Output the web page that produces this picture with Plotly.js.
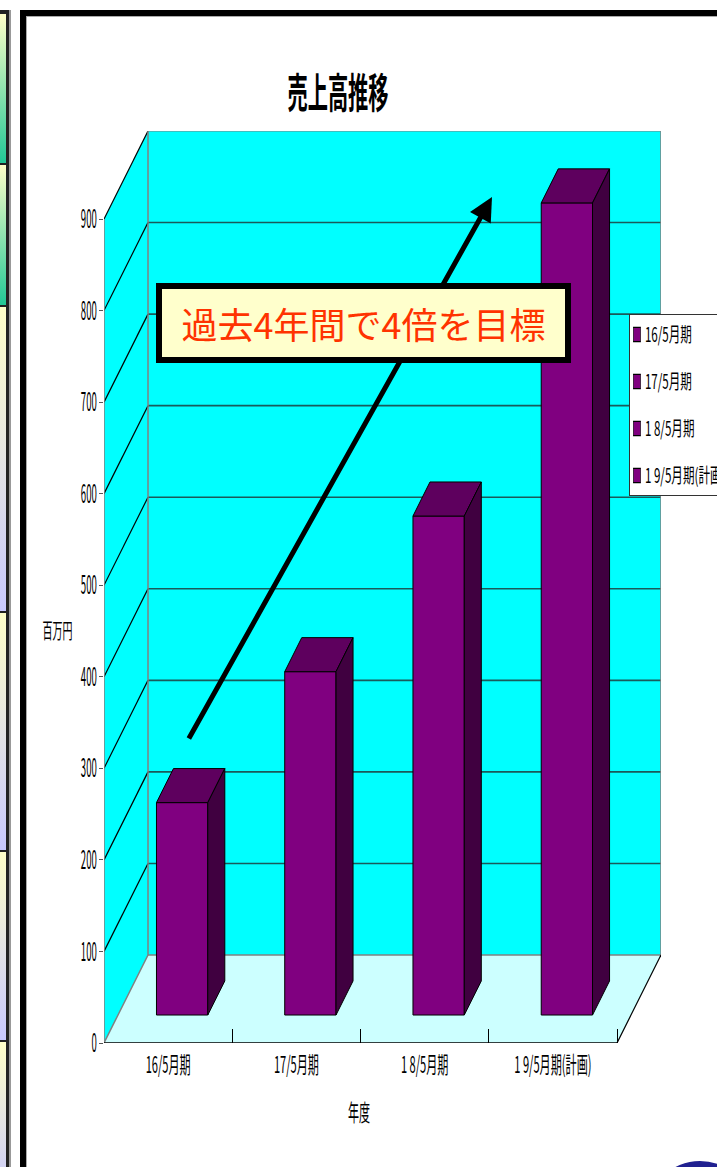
<!DOCTYPE html>
<html>
<head>
<meta charset="utf-8">
<script src="https://cdn.plot.ly/plotly-3.0.1.min.js"></script>
<style>
  html, body { margin:0; padding:0; background:#ffffff; }
  #wrap { position:relative; width:717px; height:1167px; overflow:hidden; }
  .deco { position:absolute; }
  #chart { position:absolute; left:0; top:0; width:717px; height:1167px; }
</style>
</head>
<body>
<div id="wrap">
  <div id="deco"></div>
  <div id="chart"></div>
</div>
<script>
// ---------------- data ----------------
const CATEGORIES = ['16/5月期', '17/5月期', '1 8/5月期', '1 9/5月期(計画)'];
const LEGEND_LABELS = ['16/5月期', '17/5月期', '1 8/5月期', '1 9/5月期(計画)'];
const SALES = [232, 375, 545, 887];          // 百万円
const Y_TICKS = [0, 100, 200, 300, 400, 500, 600, 700, 800, 900];
const TITLE = '売上高推移';
const Y_TITLE = '百万円';
const X_TITLE = '年度';
const NOTE = '過去4年間で4倍を目標';

// ---------------- page decoration (left strip / frame) ----------------
(function () {
  const d = document.getElementById('deco');
  const add = (css) => { const e = document.createElement('div'); e.className = 'deco'; e.style.cssText = css; d.appendChild(e); };
  const panels = [
    [12, 163, '#22c896'], [163, 305, '#22c896'], [305, 611, '#c8c8ff'],
    [611, 850, '#c8c8ff'], [850, 1040, '#c8c8ff'], [1040, 1200, '#c8c8ff']
  ];
  panels.forEach(p => add(`left:0;top:${p[0]}px;width:6px;height:${p[1]-p[0]}px;background:linear-gradient(#ffffc8,${p[2]});border-top:2px solid #222;box-sizing:border-box;`));
  add('left:0;top:10px;width:11px;height:3px;background:#222;');
  add('left:6px;top:10px;width:3px;height:1157px;background:#222;');
  add('left:9px;top:10px;width:2px;height:1157px;background:#999;');
  add('left:20px;top:10px;width:697px;height:6px;background:#000;');
  add('left:20px;top:10px;width:6px;height:1157px;background:#000;');
  add('left:26px;top:16px;width:691px;height:1px;background:#aaa;');
  add('left:26px;top:16px;width:1px;height:1151px;background:#aaa;');
  add('left:647px;top:1161px;width:106px;height:106px;border-radius:50%;background:#202090;');
})();

// ---------------- geometry / style ----------------
const FONT = '"Noto Sans CJK JP", "Noto Sans", sans-serif';
const PX_PER_X = 128.25, PX_PER_Y = 0.9156;
const DX = 44 / PX_PER_X;      // depth shift (x units)
const DY = 88 / PX_PER_Y;      // depth shift (value units)
const F0 = 0.318, F1 = 0.705;  // bar front/back depth fraction
const BAR_W = 0.4;
const N = CATEGORIES.length;
const XMAX = N + DX;
const YTOP = Y_TICKS[Y_TICKS.length - 1];
const YMAX = YTOP + DY;
const C_FRONT = '#800080', C_TOP = '#5e005e', C_SIDE = '#400040';
const WALL = '#00ffff', FLOOR = '#ccffff', GRID = '#1a5a5a', EDGE = '#808080';

// ---------------- traces ----------------
const traces = [];
const base = F0 * DY, ddx = (F1 - F0) * DX, ddy = (F1 - F0) * DY;
CATEGORIES.forEach((c, i) => {
  traces.push({
    type: 'bar', x: [i + 0.5 + F0 * DX], y: [SALES[i]], base: [base], width: [BAR_W],
    name: LEGEND_LABELS[i], legendgroup: 'g' + i,
    marker: { color: C_FRONT, line: { color: '#000', width: 1 } }, hoverinfo: 'skip'
  });
});
CATEGORIES.forEach((c, i) => {
  const cx = i + 0.5 + F0 * DX, xl = cx - BAR_W / 2, xr = cx + BAR_W / 2, t = base + SALES[i];
  traces.push({
    type: 'scatter', mode: 'lines', fill: 'toself', fillcolor: C_TOP, showlegend: false, hoverinfo: 'skip',
    line: { color: '#000', width: 1 },
    x: [xl, xr, xr + ddx, xl + ddx, xl], y: [t, t, t + ddy, t + ddy, t]
  });
  traces.push({
    type: 'scatter', mode: 'lines', fill: 'toself', fillcolor: C_SIDE, showlegend: false, hoverinfo: 'skip',
    line: { color: '#000', width: 1 },
    x: [xr, xr + ddx, xr + ddx, xr, xr], y: [base, base + ddy, t + ddy, t, base]
  });
});

// ---------------- walls (shapes) ----------------
const shapes = [];
const L = (x0, y0, x1, y1, color, width) => shapes.push({ type: 'line', xref: 'x', yref: 'y', x0, y0, x1, y1, layer: 'below', line: { color, width } });
shapes.push({ type: 'path', xref: 'x', yref: 'y', layer: 'below', path: `M0,0 L${DX},${DY} L${DX},${YMAX} L0,${YTOP} Z`, fillcolor: WALL, line: { width: 0 } });
shapes.push({ type: 'rect', xref: 'x', yref: 'y', layer: 'below', x0: DX, x1: XMAX, y0: DY, y1: YMAX, fillcolor: WALL, line: { width: 0 } });
shapes.push({ type: 'path', xref: 'x', yref: 'y', layer: 'below', path: `M0,0 L${N},0 L${XMAX},${DY} L${DX},${DY} Z`, fillcolor: FLOOR, line: { width: 0 } });
Y_TICKS.slice(1, -1).forEach(v => L(DX, v + DY, XMAX, v + DY, GRID, 1.6));
Y_TICKS.slice(1).forEach(v => L(0, v, DX, v + DY, '#000', 1.2));
L(DX, YMAX, XMAX, YMAX, EDGE, 1);
L(XMAX, DY, XMAX, YMAX, EDGE, 1.5);
L(DX, DY, DX, YMAX, EDGE, 1.5);
L(DX, DY, XMAX, DY, EDGE, 1.5);
L(0, 0, DX, DY, EDGE, 1.5);
L(0, 0, 0, YTOP, EDGE, 1.5);
L(0, 0, N, 0, '#000', 1.5);
L(N, 0, XMAX, DY, '#000', 1.2);

// ---------------- layout ----------------
const layout = {
  width: 717, height: 1167,
  margin: { l: 104, r: 56, t: 131, b: 124, autoexpand: false },
  paper_bgcolor: 'rgba(0,0,0,0)', plot_bgcolor: 'rgba(0,0,0,0)',
  font: { family: FONT, color: '#000' },
  barmode: 'overlay', showlegend: true,
  title: { text: TITLE, font: { size: 41, weight: 'bold', family: FONT, color: '#000' },
           x: 338 / 717, xanchor: 'center', y: 1 - 94 / 1167, yanchor: 'middle', xref: 'container', yref: 'container' },
  xaxis: {
    range: [0, XMAX], tickmode: 'array', tickvals: CATEGORIES.map((c, i) => i + 0.5), ticktext: CATEGORIES,
    ticks: '', showgrid: false, zeroline: false, showline: false, tickfont: { size: 23 }, ticklabelstandoff: 6,
    tickangle: 0,
    minor: { tickmode: 'array', tickvals: CATEGORIES.map((c, i) => i + 1), ticks: 'inside', ticklen: 14, tickcolor: '#000', tickwidth: 1, showgrid: false }
  },
  yaxis: {
    range: [0, YMAX], tickmode: 'array', tickvals: Y_TICKS, ticktext: Y_TICKS.map(String),
    ticks: 'outside', ticklen: 4, tickcolor: '#555', showgrid: false, zeroline: false, showline: false,
    tickfont: { size: 26 }, ticklabelstandoff: -3
  },
  legend: { x: (628 - 104) / 556, y: (1043 - 314) / 912, xanchor: 'left', yanchor: 'top', bgcolor: '#ffffff',
            bordercolor: '#333', borderwidth: 1, font: { size: 20, family: FONT }, tracegroupgap: 18 },
  annotations: [
    { xref: 'x', yref: 'y', axref: 'x', ayref: 'y', x: 388 / PX_PER_X, y: 846 / PX_PER_Y, ax: 84 / PX_PER_X, ay: 303 / PX_PER_Y,
      text: '', showarrow: true, arrowhead: 2, arrowsize: 0.95, arrowwidth: 5, arrowcolor: '#000', standoff: 0, startstandoff: 0 },
    { xref: 'paper', yref: 'paper', x: (363.5 - 104) / 556, y: (1043 - 323) / 912, xanchor: 'center', yanchor: 'middle',
      text: NOTE, showarrow: false, font: { size: 36, color: '#ff3300', family: FONT },
      bgcolor: '#ffffcc', bordercolor: '#000', borderwidth: 6, borderpad: 2, width: 399, height: 64 },
    { xref: 'paper', yref: 'paper', x: (58 - 104) / 556, y: (1043 - 629) / 912, xanchor: 'center', yanchor: 'middle',
      text: Y_TITLE, showarrow: false, font: { size: 21, family: FONT } },
    { xref: 'paper', yref: 'paper', x: (359 - 104) / 556, y: (1043 - 1111) / 912, xanchor: 'center', yanchor: 'middle',
      text: X_TITLE, showarrow: false, font: { size: 23, family: FONT } }
  ],
  shapes: shapes
};

function squeeze(nodes, ref, target) {
  nodes = Array.from(nodes);
  if (!nodes.length) return;
  const r = nodes.find(n => n.textContent === ref) || nodes[0];
  const f = target / r.getComputedTextLength();
  nodes.forEach(n => {
    const len = n.getComputedTextLength();
    n.setAttribute('textLength', (len * f).toFixed(1));
    n.setAttribute('lengthAdjust', 'spacingAndGlyphs');
  });
}

Plotly.newPlot('chart', traces, layout, { staticPlot: true }).then(gd => {
  squeeze(gd.querySelectorAll('.ytick text'), '900', 16);
  squeeze(gd.querySelectorAll('.xtick text'), CATEGORIES[0], 45);
  squeeze(gd.querySelectorAll('.gtitle'), TITLE, 101);
  const ann = Array.from(gd.querySelectorAll('.annotation-text'));
  squeeze(ann.filter(n => n.textContent === Y_TITLE), Y_TITLE, 30);
  squeeze(ann.filter(n => n.textContent === X_TITLE), X_TITLE, 22);
  // legend: narrow text (scaled about its start) and narrow symbols, as in the reference
  const lt = Array.from(gd.querySelectorAll('.legendtext'));
  const refT = lt.find(n => n.textContent === LEGEND_LABELS[0]) || lt[0];
  const f = refT ? 47 / refT.getComputedTextLength() : 1;
  const X0 = 15;
  lt.forEach(t => {
    t.setAttribute('x', X0);
    t.setAttribute('transform', `translate(${(X0 * (1 - f)).toFixed(2)},0) scale(${f.toFixed(4)},1)`);
  });
  gd.querySelectorAll('.legend .traces .legendpoints').forEach(lp => {
    lp.setAttribute('transform', 'translate(-5,0) scale(0.6,1.2)');
  });
});
</script>
</body>
</html>
